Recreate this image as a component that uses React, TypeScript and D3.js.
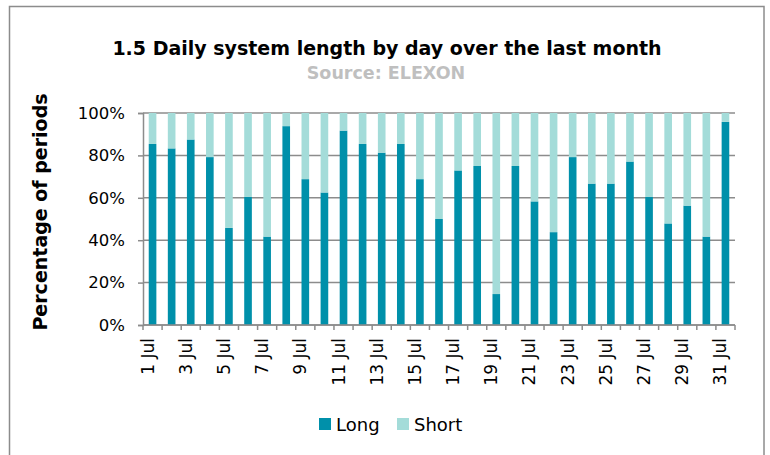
import React, {useEffect, useRef} from 'react';
import * as d3 from 'd3';

// share of half-hour periods each day where the system was long (%)
const days = d3.range(1, 32).map(d => `${d} Jul`);
const longPct = [
    85.4, 83.3, 87.5, 79.2, 45.8, 60.4, 41.7, 93.8, 68.8, 62.5,
    91.7, 85.4, 81.3, 85.4, 68.8, 50.0, 72.9, 75.0, 14.6, 75.0,
    58.3, 43.8, 79.2, 66.7, 66.7, 77.1, 60.4, 47.9, 56.3, 41.7, 95.8
];
const shortPct = longPct.map(v => 100 - v);
const yTicks = [0, 20, 40, 60, 80, 100];
const seriesNames = ['Long', 'Short'];

const colors = {Long: '#0090aa', Short: '#a4dcd9'};
const FONT = '"DejaVu Sans", Verdana, sans-serif';

const width = 770, height = 455;
const margin = {top: 113, right: 35, bottom: 130, left: 143};

const App = () => {
    const ref = useRef(null);

    useEffect(() => {
        const root = d3.select(ref.current);
        root.selectAll('*').remove();

        const svgWidth = width - margin.left - margin.right,
            svgHeight = height - margin.top - margin.bottom;

        // chart frame
        root.append('rect')
            .attr('x', 9.5).attr('y', 6.5)
            .attr('width', 754.5).attr('height', 470)
            .attr('fill', 'white')
            .attr('stroke', '#8c8c8c')
            .attr('stroke-width', 1.5);

        root.append('text')
            .attr('x', 387).attr('y', 55)
            .attr('text-anchor', 'middle')
            .attr('font-family', FONT)
            .attr('font-weight', 'bold')
            .attr('font-size', 19)
            .text('1.5 Daily system length by day over the last month');

        root.append('text')
            .attr('x', 386).attr('y', 79)
            .attr('text-anchor', 'middle')
            .attr('font-family', FONT)
            .attr('font-weight', 'bold')
            .attr('font-size', 17.5)
            .attr('fill', '#bfbfbf')
            .text('Source: ELEXON');

        root.append('text')
            .attr('transform', `translate(47, 212) rotate(-90)`)
            .attr('text-anchor', 'middle')
            .attr('font-family', FONT)
            .attr('font-weight', 'bold')
            .attr('font-size', 19)
            .text('Percentage of periods');

        const g = root.append('g')
            .attr('transform', `translate(${margin.left},${margin.top})`);

        const x = d3.scaleBand()
            .domain(days)
            .range([0, svgWidth])
            .paddingInner(0.6)
            .paddingOuter(0.3);

        const y = d3.scaleLinear()
            .domain([0, 100])
            .range([svgHeight, 0]);

        // gridlines
        g.selectAll('.grid')
            .data(yTicks)
            .enter()
            .append('line')
            .attr('class', 'grid')
            .attr('x1', 0).attr('x2', svgWidth)
            .attr('y1', d => y(d)).attr('y2', d => y(d))
            .attr('stroke', '#8c8c8c')
            .attr('stroke-width', 1.5);

        const rows = days.map((d, i) => ({day: d, Long: longPct[i], Short: shortPct[i]}));
        const stacked = d3.stack().keys(seriesNames)(rows);

        g.selectAll('.series')
            .data(stacked)
            .enter()
            .append('g')
            .attr('class', 'series')
            .attr('fill', s => colors[s.key])
            .selectAll('rect')
            .data(s => s)
            .enter()
            .append('rect')
            .attr('x', d => x(d.data.day))
            .attr('y', d => y(d[1]))
            .attr('width', x.bandwidth())
            .attr('height', d => y(d[0]) - y(d[1]));

        // y axis
        const yAx = g.append('g')
            .call(d3.axisLeft(y).tickValues(yTicks).tickSize(5).tickPadding(13).tickFormat(d => `${d}%`));
        yAx.select('.domain').attr('stroke', '#8c8c8c').attr('stroke-width', 1.5);
        yAx.selectAll('.tick line').attr('stroke', '#8c8c8c').attr('stroke-width', 1.5);
        yAx.selectAll('.tick text')
            .attr('font-family', FONT)
            .attr('font-size', 16.5)
            .attr('fill', '#000');

        // x axis: ticks between categories, labels on odd days
        const step = x.step();
        const boundaries = d3.range(days.length + 1).map(i => i * step);
        const xAx = g.append('g').attr('transform', `translate(0,${svgHeight})`);
        xAx.append('line')
            .attr('x1', 0).attr('x2', svgWidth)
            .attr('stroke', '#8c8c8c').attr('stroke-width', 1.5);
        xAx.selectAll('.xtick')
            .data(boundaries)
            .enter()
            .append('line')
            .attr('class', 'xtick')
            .attr('x1', d => d).attr('x2', d => d)
            .attr('y1', 0).attr('y2', 5)
            .attr('stroke', '#8c8c8c').attr('stroke-width', 1.5);
        xAx.selectAll('.xlabel')
            .data(days.filter((d, i) => i % 2 === 0))
            .enter()
            .append('text')
            .attr('class', 'xlabel')
            .attr('transform', d => `translate(${x(d) + x.bandwidth() / 2 + 1},13) rotate(-90)`)
            .attr('text-anchor', 'end')
            .attr('font-family', FONT)
            .attr('font-size', 17)
            .text(d => d);

        // legend
        const legend = root.append('g').attr('transform', 'translate(319,418)');
        const items = legend.selectAll('.item')
            .data(seriesNames)
            .enter()
            .append('g')
            .attr('class', 'item')
            .attr('transform', (d, i) => `translate(${i * 78},0)`);
        items.append('rect')
            .attr('width', 12).attr('height', 12)
            .attr('fill', d => colors[d]);
        items.append('text')
            .attr('x', 17).attr('y', 13)
            .attr('font-family', FONT)
            .attr('font-size', 18)
            .text(d => d);
    }, []);

    return (
        <svg ref={ref} width={width} height={height}
             style={{position: 'absolute', left: 0, top: 0, background: 'white'}}></svg>
    );
};

export default App;
